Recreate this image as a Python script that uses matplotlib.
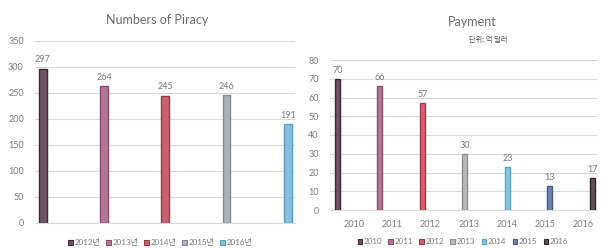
import matplotlib
matplotlib.use("Agg")
import matplotlib.pyplot as plt
from matplotlib.patches import Patch

plt.rcParams['font.family'] = ['Lato', 'Noto Sans CJK KR', 'DejaVu Sans']

# Left chart data
piracy_series = ["2012년", "2013년", "2014년", "2015년", "2016년"]
piracy_values = [297, 264, 245, 246, 191]
piracy_ticks = [0, 50, 100, 150, 200, 250, 300, 350]

# Right chart data
pay_years = ["2010", "2011", "2012", "2013", "2014", "2015", "2016"]
pay_values = [70, 66, 57, 30, 23, 13, 17]
pay_ticks = [0, 10, 20, 30, 40, 50, 60, 70, 80]

piracy_colors = ["#6e5363", "#b47896", "#c9626f", "#aeb3ba", "#86c0dc"]
piracy_edges = ["#3e2a36", "#8a4c6c", "#9a3a48", "#858a92", "#5a9cc0"]
pay_colors = ["#6e5363", "#b47896", "#d0646f", "#b8b8b8", "#86c6e0", "#7084b4", "#5e5258"]
pay_edges = ["#3e2a36", "#8a4c6c", "#a03a48", "#909090", "#5aa0c4", "#44588a", "#2e2428"]

TXT = "#7a7a7a"
GRID = "#d9d9d9"

fig = plt.figure(figsize=(6.11, 2.48), dpi=100)

# ---------- Left ----------
ax1 = fig.add_axes([35/611, 1-223/248, 260/611, (223-41)/248])
xs = list(range(len(piracy_values)))
ax1.bar(xs, piracy_values, width=0.13, color=piracy_colors, edgecolor=piracy_edges,
        linewidth=1.0, zorder=3)
for x, v in zip(xs, piracy_values):
    ax1.text(x, v + 8, str(v), ha='center', va='bottom', fontsize=6.5, color=TXT)
ax1.set_xlim(-0.13, 4.12)
ax1.set_ylim(0, 350)
ax1.set_yticks(piracy_ticks)
ax1.set_yticklabels([str(t) for t in piracy_ticks])
ax1.set_xticks([])
ax1.yaxis.grid(True, color=GRID, linewidth=0.8, zorder=0)
for s in ['top', 'right', 'left']:
    ax1.spines[s].set_visible(False)
ax1.spines['bottom'].set_color(GRID)
ax1.tick_params(axis='y', length=0, labelsize=6.5, labelcolor=TXT, pad=8)
fig.text(157/611, 1-20/248, "Numbers of Piracy", ha='center', va='center',
         fontsize=9, color="#6a6a6a")
handles1 = [Patch(facecolor=c, edgecolor=e, linewidth=0.8) for c, e in zip(piracy_colors, piracy_edges)]
fig.legend(handles1, piracy_series, loc='center', bbox_to_anchor=(160/611, 1-242/248),
           ncol=5, frameon=False, fontsize=5.8, handlelength=0.6, handleheight=0.6,
           handletextpad=0.2, columnspacing=0.7, labelcolor=TXT)

# ---------- Right ----------
ax2 = fig.add_axes([330/611, 1-210/248, 267/611, (210-60)/248])
cats = list(range(len(pay_values)))
bar_x = [i + (i - 3) * 0.113 - 0.1 for i in cats]
ax2.bar(bar_x, pay_values, width=0.13, color=pay_colors, edgecolor=pay_edges,
        linewidth=1.0, zorder=3)
for x, v in zip(bar_x, pay_values):
    ax2.text(x, v + 2, str(v), ha='center', va='bottom', fontsize=6.5, color=TXT)
ax2.set_xlim(-0.63, 6.36)
ax2.set_ylim(0, 80)
ax2.set_yticks(pay_ticks)
ax2.set_yticklabels([str(t) for t in pay_ticks])
ax2.set_xticks(cats)
ax2.set_xticklabels(pay_years)
ax2.yaxis.grid(True, color=GRID, linewidth=0.8, zorder=0)
for s in ['top', 'right', 'left']:
    ax2.spines[s].set_visible(False)
ax2.spines['bottom'].set_color(GRID)
ax2.tick_params(axis='y', length=0, labelsize=6.5, labelcolor=TXT, pad=8)
ax2.tick_params(axis='x', length=0, labelsize=6.5, labelcolor=TXT, pad=7)
fig.text(472/611, 1-22/248, "Payment", ha='center', va='center',
         fontsize=9, color="#6a6a6a")
fig.text(488/611, 1-40/248, "단위: 억 달러", ha='center', va='center',
         fontsize=5.2, color="#555555", family=['Noto Sans CJK KR', 'DejaVu Sans'])
handles2 = [Patch(facecolor=c, edgecolor=e, linewidth=0.8) for c, e in zip(pay_colors, pay_edges)]
fig.legend(handles2, pay_years, loc='center', bbox_to_anchor=(463/611, 1-242/248),
           ncol=7, frameon=False, fontsize=5.8, handlelength=0.6, handleheight=0.6,
           handletextpad=0.2, columnspacing=0.75, labelcolor=TXT)

fig.savefig("out.png", dpi=100, facecolor='white')
